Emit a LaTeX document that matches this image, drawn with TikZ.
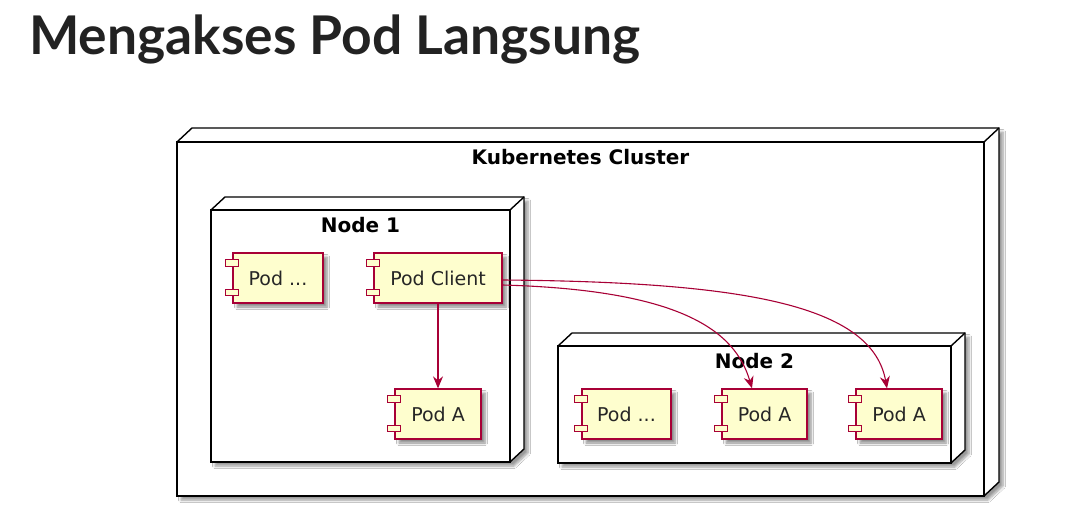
\documentclass[tikz,border=0pt]{standalone}
\usepackage{fontspec}
\usetikzlibrary{arrows.meta,shadows.blur}
\newfontfamily\dvfont{DejaVu Sans}
\newfontfamily\titlefont{Lato}
\definecolor{podfill}{HTML}{FEFECE}
\definecolor{podline}{HTML}{A80036}
\definecolor{titlecol}{HTML}{222222}
\tikzset{
  podbox/.style={draw=podline, fill=podfill, line width=1.3pt, minimum height=50pt,
    inner sep=0pt, font=\dvfont\fontsize{19}{22}\selectfont, text=black!85,
    blur shadow={shadow xshift=4pt, shadow yshift=-4pt, shadow blur steps=6, shadow blur radius=2.5pt, shadow opacity=45}},
  podbar/.style={draw=podline, fill=podfill, line width=1.1pt},
  box3d/.style={draw=black, line width=1.4pt, line join=miter, fill=white},
  boxlabel/.style={font=\dvfont\bfseries\fontsize{20}{22}\selectfont, anchor=base, inner sep=0pt},
  conn/.style={draw=podline, line width=1.1pt, -{Stealth[length=12pt,width=10pt,inset=4pt]}}
}
\newcommand{\boxthreed}[5]{% L T R B d
  \path[box3d, blur shadow={shadow xshift=4pt, shadow yshift=-4pt, shadow blur steps=6, shadow blur radius=2.5pt, shadow opacity=40}]
    (#1,#2) -- (#1+#5,#2-#5+1) -- (#3+#5,#2-#5+1) -- (#3+#5,#4-#5+1) -- (#3,#4) -- (#1,#4) -- cycle;
  \draw[line width=1.4pt] (#1,#2) rectangle (#3,#4);
  \draw[line width=1.4pt] (#3,#2) -- (#3+#5,#2-#5+1);
}
\newcommand{\podbars}[1]{%
  \draw[podbar] ([xshift=-7pt,yshift=-7pt]#1.north west) rectangle ([xshift=6pt,yshift=-14pt]#1.north west);
  \draw[podbar] ([xshift=-7pt,yshift=8pt]#1.south west) rectangle ([xshift=6pt,yshift=14pt]#1.south west);
}
\begin{document}
\begin{tikzpicture}[x=1pt,y=-1pt]
\useasboundingbox[fill=white] (0,0) rectangle (1092,527);
% title
\node[anchor=base west, inner sep=0pt, text=titlecol, font=\titlefont\bfseries\fontsize{53}{60}\selectfont] (title) at (29,55) {\resizebox{611pt}{!}{Mengakses Pod Langsung}};
% cluster
\boxthreed{177}{142}{984}{496}{15}
\node[boxlabel] (lcluster) at (580.5,164) {Kubernetes Cluster};
% node 1
\boxthreed{211}{210}{510}{462}{14}
\node[boxlabel] (lnode1) at (360.5,232.5) {Node 1};
% node 2
\boxthreed{558}{346}{951}{463}{14}
\node[boxlabel] (lnode2) at (754.5,368) {Node 2};
% pods
\node[podbox, minimum width=90pt] (pd1) at (278,278) {Pod ...};
\node[podbox, minimum width=128pt] (pc) at (438,278) {Pod Client};
\node[podbox, minimum width=86pt] (pa1) at (438,414) {Pod A};
\node[podbox, minimum width=89pt] (pd2) at (626.5,414) {Pod ...};
\node[podbox, minimum width=85pt] (pa2) at (764.5,414) {Pod A};
\node[podbox, minimum width=86pt] (pa3) at (899,414) {Pod A};
\podbars{pd1}\podbars{pc}\podbars{pa1}\podbars{pd2}\podbars{pa2}\podbars{pa3}
% connectors
\draw[conn] (pc.south) -- (pa1.north);
\draw[conn] ([yshift=-7pt]pc.east) .. controls (680,290) and (735,330) .. ([xshift=-12.5pt]pa2.north);
\draw[conn] ([yshift=-2pt]pc.east) .. controls (745,282) and (872,305) .. ([xshift=-12pt]pa3.north);
\end{tikzpicture}
\end{document}
